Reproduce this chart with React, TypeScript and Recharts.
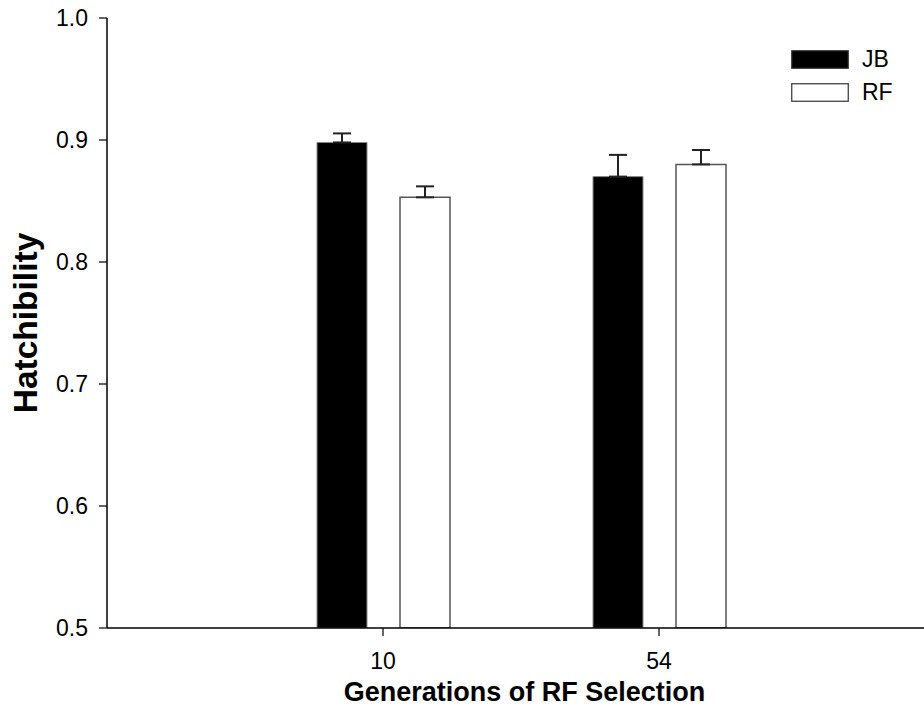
import React from 'react';
import { BarChart, Bar, XAxis, YAxis, ErrorBar, Legend, Label } from 'recharts';

// generations of selection (x categories)
const GENERATIONS = ['10', '54'];
// hatchibility means
const JB_VALUES = [0.898, 0.870];
const RF_VALUES = [0.853, 0.880];
// upper standard errors (bars only drawn upward)
const JB_ERRORS = [0.0074, 0.0178];
const RF_ERRORS = [0.009, 0.0118];
const Y_TICKS = [0.5, 0.6, 0.7, 0.8, 0.9, 1.0];

const SERIES = [
    { key: 'JB', fill: '#000000', stroke: '#8a8a8a', strokeWidth: 1 },
    { key: 'RF', fill: '#ffffff', stroke: '#555555', strokeWidth: 1.5 },
];

const FONT = '"Liberation Sans", Arial, sans-serif';

const data = GENERATIONS.map((gen, i) => ({
    gen,
    JB: JB_VALUES[i],
    RF: RF_VALUES[i],
    JBerr: [0, JB_ERRORS[i]],
    RFerr: [0, RF_ERRORS[i]],
}));

const renderLegend = () => (
    <svg width={125} height={60} style={{ display: 'block', overflow: 'visible' }}>
        {SERIES.map((s, i) => (
            <g key={s.key}>
                <rect x={0.75} y={0.75 + i * 33} width={56.5} height={17.5} fill={s.fill} stroke="#333" strokeWidth={1.2} />
                <text x={71} y={9 + i * 33} dy="0.36em" fontSize={23} fontFamily={FONT} fill="#000">{s.key}</text>
            </g>
        ))}
    </svg>
);

export default function App() {
    return (
        <div style={{ position: 'absolute', left: 0, top: 0 }}>
            <BarChart
                width={924}
                height={709}
                data={data}
                margin={{ top: 18, right: 0, left: 0, bottom: 0 }}
                barSize={50}
                barGap={33}
            >
                <XAxis
                    xAxisId="top"
                    orientation="top"
                    dataKey="gen"
                    height={0}
                    tick={false}
                    tickLine={false}
                    axisLine={{ stroke: '#000', strokeWidth: 1.5 }}
                    padding={{ left: 138, right: 127 }}
                />
                <XAxis
                    dataKey="gen"
                    height={81}
                    padding={{ left: 138, right: 127 }}
                    tickSize={8}
                    tickMargin={17}
                    axisLine={{ stroke: '#000', strokeWidth: 1.5 }}
                    tickLine={{ stroke: '#000', strokeWidth: 1.2 }}
                    tick={{ fontSize: 23, fontFamily: FONT, fill: '#000' }}
                >
                    <Label
                        value="Generations of RF Selection"
                        position="insideBottom"
                        offset={8}
                        dx={9}
                        style={{ fontSize: 27, fontWeight: 'bold', fontFamily: FONT, fill: '#000' }}
                    />
                </XAxis>
                <YAxis
                    type="number"
                    width={107}
                    domain={[0.5, 1.0]}
                    ticks={Y_TICKS}
                    interval={0}
                    allowDataOverflow
                    tickFormatter={(v: number) => v.toFixed(1)}
                    tickSize={8}
                    tickMargin={11}
                    axisLine={{ stroke: '#000', strokeWidth: 1.5 }}
                    tickLine={{ stroke: '#000', strokeWidth: 1.2 }}
                    tick={{ fontSize: 23, fontFamily: FONT, fill: '#000' }}
                >
                    <Label
                        value="Hatchibility"
                        angle={-90}
                        position="insideLeft"
                        offset={25}
                        style={{ textAnchor: 'middle', fontSize: 33.5, fontWeight: 'bold', fontFamily: FONT, fill: '#000' }}
                    />
                </YAxis>
                <Legend
                    layout="horizontal"
                    align="center"
                    verticalAlign="middle"
                    content={renderLegend}
                    wrapperStyle={{ position: 'absolute', left: 791, top: 50, width: 125, height: 60 }}
                />
                {SERIES.map((s) => (
                    <Bar
                        key={s.key}
                        dataKey={s.key}
                        name={s.key}
                        fill={s.fill}
                        stroke={s.stroke}
                        strokeWidth={s.strokeWidth}
                        isAnimationActive={false}
                    >
                        <ErrorBar
                            dataKey={`${s.key}err`}
                            direction="y"
                            width={9}
                            stroke="#222"
                            strokeWidth={2}
                        />
                    </Bar>
                ))}
            </BarChart>
        </div>
    );
}
